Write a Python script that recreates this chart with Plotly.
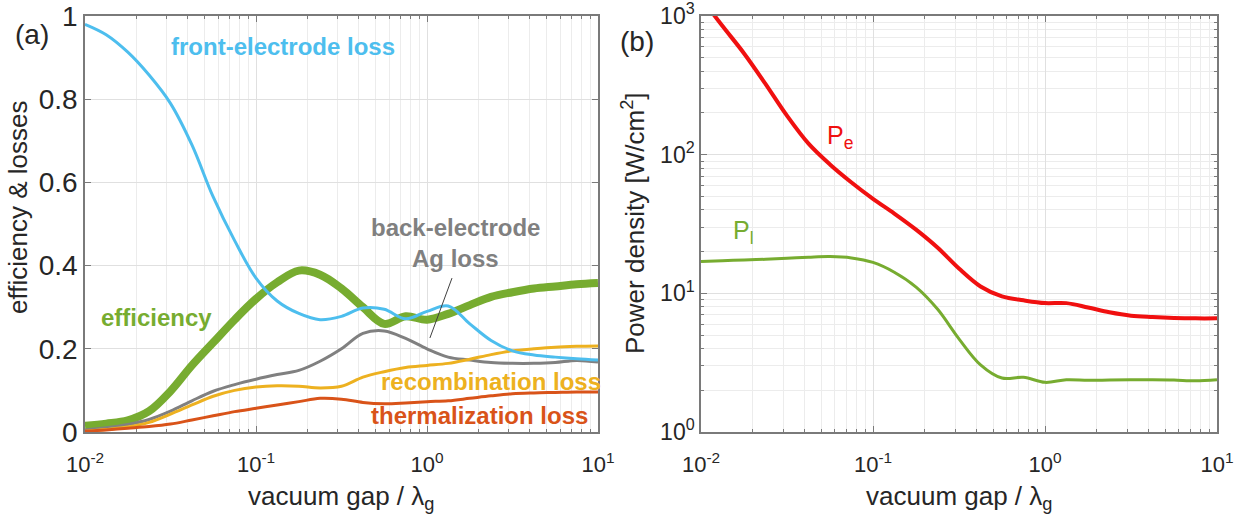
import plotly.graph_objects as go

# shared sampling of the vacuum gap (in units of lambda_g)
gap = [0.01, 0.0133, 0.0178, 0.0237, 0.0316, 0.0422, 0.0562, 0.075, 0.1, 0.133, 0.178, 0.237,
       0.316, 0.422, 0.562, 0.75, 1.0, 1.33, 1.78, 2.37, 3.16, 4.22, 5.62, 7.5, 10.0]

# ---------------- Panel (a): efficiency & losses ----------------
front_loss = [0.98, 0.955, 0.913, 0.858, 0.79, 0.69, 0.565, 0.46, 0.37, 0.315, 0.285, 0.27,
              0.278, 0.298, 0.295, 0.272, 0.29, 0.303, 0.26, 0.22, 0.195, 0.185, 0.18, 0.176, 0.173]
efficiency = [0.015, 0.02, 0.028, 0.05, 0.098, 0.16, 0.215, 0.27, 0.32, 0.36, 0.388, 0.378,
              0.345, 0.30, 0.26, 0.278, 0.27, 0.284, 0.305, 0.325, 0.336, 0.345, 0.35, 0.355, 0.358]
back_loss = [0.005, 0.01, 0.018, 0.03, 0.05, 0.075, 0.098, 0.114, 0.127, 0.138, 0.148, 0.17,
             0.2, 0.237, 0.243, 0.225, 0.2, 0.18, 0.173, 0.167, 0.165, 0.165, 0.167, 0.172, 0.168]
recomb_loss = [0.002, 0.006, 0.012, 0.023, 0.043, 0.065, 0.086, 0.10, 0.108, 0.111, 0.11, 0.106,
               0.11, 0.132, 0.145, 0.155, 0.16, 0.165, 0.175, 0.186, 0.195, 0.2, 0.204, 0.206, 0.207]
therm_loss = [0.002, 0.005, 0.009, 0.013, 0.019, 0.029, 0.039, 0.049, 0.057, 0.065, 0.073, 0.081,
              0.079, 0.071, 0.068, 0.07, 0.073, 0.075, 0.081, 0.087, 0.092, 0.094, 0.095, 0.096, 0.096]

# pointer line for the "back-electrode Ag loss" label
pointer_x = [1.04, 1.40]
pointer_y = [0.226, 0.370]

lin_ticks = [0, 0.2, 0.4, 0.6, 0.8, 1]
lin_ticktext = ["0", "0.2", "0.4", "0.6", "0.8", "1"]

# ---------------- Panel (b): power densities [W/cm^2] ----------------
p_e = [1350, 850, 537, 324, 191, 120, 85, 63, 48, 37.6, 28.8, 21.4,
       15.1, 11.2, 9.5, 8.9, 8.5, 8.5, 7.9, 7.3, 6.9, 6.75, 6.65, 6.6, 6.6]
p_l = [17.0, 17.2, 17.4, 17.6, 17.9, 18.2, 18.4, 18.0, 16.7, 14.2, 11.1, 7.7,
       4.7, 3.05, 2.45, 2.48, 2.28, 2.38, 2.36, 2.37, 2.38, 2.38, 2.37, 2.34, 2.38]

log_ticks_x = [0.01, 0.1, 1, 10]
log_ticktext_x = ["10<sup>-2</sup>", "10<sup>-1</sup>", "10<sup>0</sup>", "10<sup>1</sup>"]
log_ticks_y = [1, 10, 100, 1000]
log_ticktext_y = ["10<sup>0</sup>", "10<sup>1</sup>", "10<sup>2</sup>", "10<sup>3</sup>"]

minor_x = [m * 10 ** e for e in (-2, -1, 0) for m in range(2, 10)]
minor_y = [m * 10 ** e for e in (0, 1, 2) for m in range(2, 10)]

# colours
C_BLUE = "#4DBEEE"
C_GREEN = "#77AC30"
C_GRAY = "#808080"
C_YELLOW = "#EDB120"
C_ORANGE = "#D95319"
C_RED = "#F01010"

FONT = "Arial, Liberation Sans, Helvetica, sans-serif"
W, H = 1244, 531

fig = go.Figure()

def add(y, color, width, xa="x", ya="y"):
    fig.add_trace(go.Scatter(x=gap, y=y, mode="lines", xaxis=xa, yaxis=ya,
                             line=dict(color=color, width=width, shape="spline", smoothing=1.0),
                             showlegend=False, hoverinfo="skip"))

add(efficiency, C_GREEN, 8)
add(back_loss, C_GRAY, 3)
add(recomb_loss, C_YELLOW, 3)
add(therm_loss, C_ORANGE, 3)
add(front_loss, C_BLUE, 3)
fig.add_trace(go.Scatter(x=pointer_x, y=pointer_y, mode="lines", xaxis="x", yaxis="y",
                         line=dict(color="#404040", width=1), showlegend=False, hoverinfo="skip"))

add(p_e, C_RED, 4, "x2", "y2")
add(p_l, C_GREEN, 3, "x2", "y2")

GRID = "#e0e0e0"
MGRID = "#ececec"
AXL = "#7a7a7a"

def xaxis_common(domain, anchor):
    return dict(type="log", range=[-2, 1], domain=domain, anchor=anchor, automargin=False,
                tickmode="array", tickvals=log_ticks_x, ticktext=log_ticktext_x,
                ticks="inside", ticklen=6, tickcolor=AXL, mirror="ticks",
                showline=True, linecolor=AXL, linewidth=1.5,
                showgrid=True, gridcolor=GRID, gridwidth=1, zeroline=False,
                tickfont=dict(family=FONT, size=22, color="#262626"),
                ticklabelstandoff=12, ticklabeloverflow="allow",
                minor=dict(tickmode="array", tickvals=minor_x, ticks="inside", ticklen=3,
                           tickcolor=AXL, showgrid=True, gridcolor=MGRID, gridwidth=1))

dom_y = [1 - 432 / H, 1 - 16 / H]
fig.update_layout(
    width=W, height=H,
    margin=dict(l=0, r=0, t=0, b=0),
    paper_bgcolor="white", plot_bgcolor="white",
    xaxis=xaxis_common([85 / W, 598 / W], "y"),
    yaxis=dict(range=[0, 1], domain=dom_y, anchor="x", automargin=False,
               tickmode="array", tickvals=lin_ticks, ticktext=lin_ticktext,
               ticks="inside", ticklen=6, tickcolor=AXL, mirror="ticks",
               showline=True, linecolor=AXL, linewidth=1.5,
               showgrid=True, gridcolor=GRID, zeroline=False, ticklabeloverflow="allow",
               tickfont=dict(family=FONT, size=28, color="#262626")),
    xaxis2=xaxis_common([701 / W, 1217 / W], "y2"),
    yaxis2=dict(type="log", range=[0, 3], domain=dom_y, anchor="x2", automargin=False,
                tickmode="array", tickvals=log_ticks_y, ticktext=log_ticktext_y,
                ticks="inside", ticklen=6, tickcolor=AXL, mirror="ticks",
                showline=True, linecolor=AXL, linewidth=1.5,
                showgrid=True, gridcolor=GRID, zeroline=False, ticklabeloverflow="allow",
                tickfont=dict(family=FONT, size=23, color="#262626"),
                minor=dict(tickmode="array", tickvals=minor_y, ticks="inside", ticklen=3,
                           tickcolor=AXL, showgrid=True, gridcolor=MGRID, gridwidth=1)),
)

def txt(px, py, text, size, color="#262626", angle=0, xanchor="center"):
    fig.add_annotation(x=px / W, y=1 - py / H, xref="paper", yref="paper",
                       text=text, showarrow=False, textangle=angle,
                       xanchor=xanchor, yanchor="middle",
                       font=dict(family=FONT, size=size, color=color))

# panel labels
txt(32, 34, "(a)", 28)
txt(637, 41, "(b)", 28)

# axis titles
txt(18, 208, "efficiency &amp; losses", 26, angle=-90)
txt(341, 497, "vacuum gap / λ<sub>g</sub>", 26)
txt(634, 223, "Power density [W/cm<sup>2</sup>]", 26, angle=-90)
txt(959, 497, "vacuum gap / λ<sub>g</sub>", 26)

# series labels panel (a)
txt(283, 46, "<b>front-electrode loss</b>", 24, C_BLUE)
txt(455, 227, "<b>back-electrode</b>", 24, C_GRAY)
txt(455, 258, "<b>Ag loss</b>", 24, C_GRAY)
txt(157, 317, "<b>efficiency</b>", 24, C_GREEN)
txt(491, 381, "<b>recombination loss</b>", 24, C_YELLOW)
txt(479, 415, "<b>thermalization loss</b>", 24, C_ORANGE)

# series labels panel (b)
txt(840, 137, "P<sub>e</sub>", 25, C_RED)
txt(743, 232, "P<sub>l</sub>", 25, C_GREEN)

fig.write_html("out.html", config={"displayModeBar": False},
               post_script="document.body.style.margin='0';document.body.style.overflow='hidden';")
